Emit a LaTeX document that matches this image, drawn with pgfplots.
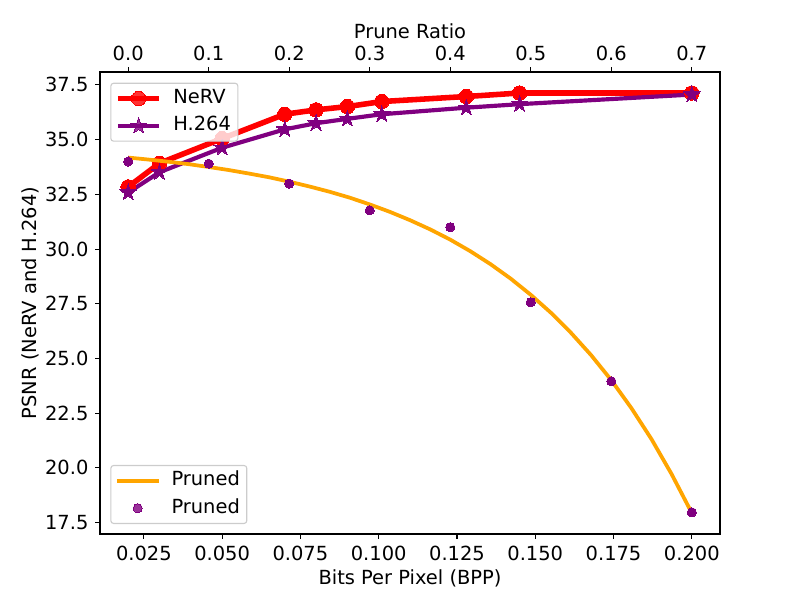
\documentclass[border=0pt]{standalone}
\usepackage{fontspec}
\setmainfont{DejaVu Sans}
\usepackage{pgfplots}
\pgfplotsset{compat=1.18}
\definecolor{mpurple}{HTML}{800080}
\definecolor{morange}{HTML}{FFA500}
\definecolor{legedge}{HTML}{CCCCCC}
\pgfdeclareplotmark{fstar}{%
  \pgfpathmoveto{\pgfpointpolar{90}{\pgfplotmarksize}}%
  \pgfpathlineto{\pgfpointpolar{126}{0.382*\pgfplotmarksize}}%
  \pgfpathlineto{\pgfpointpolar{162}{\pgfplotmarksize}}%
  \pgfpathlineto{\pgfpointpolar{198}{0.382*\pgfplotmarksize}}%
  \pgfpathlineto{\pgfpointpolar{234}{\pgfplotmarksize}}%
  \pgfpathlineto{\pgfpointpolar{270}{0.382*\pgfplotmarksize}}%
  \pgfpathlineto{\pgfpointpolar{306}{\pgfplotmarksize}}%
  \pgfpathlineto{\pgfpointpolar{342}{0.382*\pgfplotmarksize}}%
  \pgfpathlineto{\pgfpointpolar{18}{\pgfplotmarksize}}%
  \pgfpathlineto{\pgfpointpolar{54}{0.382*\pgfplotmarksize}}%
  \pgfpathclose
  \pgfusepathqfillstroke
}
\newcommand{\fs}{\fontsize{14}{16.8}\selectfont}
\pgfplotsset{
  common/.style={
    width=446.4pt, height=332.64pt, scale only axis,
    at={(0,0)}, anchor=south west,
    ymin=16.98, ymax=38.09,
    tick align=outside, major tick length=3.5pt,
    every tick/.style={black, line width=0.8pt},
    axis line style={line width=0.8pt},
    tick label style={font=\fs},
    label style={font=\fs},
    /pgf/number format/assume math mode=true,
    legend style={font=\fs, draw=legedge, line width=0.8pt, rounded corners=2pt,
      fill=white, fill opacity=0.8, text opacity=1, draw opacity=1,
      inner xsep=3pt, inner ysep=2.5pt, row sep=2.7pt, column sep=6pt,
      nodes={inner sep=2pt, text height=10pt, text depth=3pt}},
    legend cell align=left,
    legend image code/.code={\draw[mark repeat=2,mark phase=2,##1] plot coordinates {(0pt,0pt) (15pt,0pt) (30pt,0pt)};},
  }
}
\begin{document}
\fs
\begin{tikzpicture}
\begin{axis}[common,
  xmin=0.011, xmax=0.209,
  xtick={0.025,0.05,0.075,0.1,0.125,0.15,0.175,0.2},
  scaled x ticks=false,
  x tick label style={/pgf/number format/fixed, /pgf/number format/fixed zerofill, /pgf/number format/precision=3},
  ytick={17.5,20,22.5,25,27.5,30,32.5,35,37.5},
  y tick label style={/pgf/number format/fixed, /pgf/number format/fixed zerofill, /pgf/number format/precision=1},
  xtick pos=lower, ytick pos=left,
  xlabel={Bits Per Pixel (BPP)},
  ylabel={PSNR (NeRV and H.264)},
  every axis x label/.style={at={(axis description cs:0.5,0)}, anchor=base, yshift=-36pt},
  every axis y label/.style={at={(axis description cs:0,0.5)}, xshift=-45.6pt, rotate=90, anchor=base},
  legend style={at={(0,1)}, anchor=north west, xshift=7.4pt, yshift=-7.7pt},
]
\addplot[red, line width=4pt, mark=*, mark size=5.2pt, mark options={line width=0pt}] coordinates {
(0.02,32.84) (0.03,33.92) (0.05,35.05) (0.07,36.16) (0.08,36.36) (0.09,36.51) (0.101,36.74) (0.128,36.97) (0.145,37.13) (0.2,37.13)};
\addlegendentry{NeRV}
\addplot[mpurple, line width=3pt, mark=fstar, mark size=6.2pt, mark options={line width=0pt}] coordinates {
(0.02,32.58) (0.03,33.51) (0.05,34.63) (0.07,35.47) (0.08,35.75) (0.09,35.95) (0.101,36.16) (0.128,36.46) (0.145,36.62) (0.2,37.06)};
\addlegendentry{H.264}
\end{axis}
\begin{axis}[common,
  xmin=-0.035, xmax=0.735,
  xtick={0,0.1,0.2,0.3,0.4,0.5,0.6,0.7},
  x tick label style={/pgf/number format/fixed, /pgf/number format/fixed zerofill, /pgf/number format/precision=1},
  xtick pos=upper, xticklabel pos=upper,
  ytick=\empty,
  xlabel={Prune Ratio},
  every axis x label/.style={at={(axis description cs:0.5,1)}, anchor=base, yshift=23.8pt},
  legend style={at={(0,0)}, anchor=south west, xshift=7.4pt, yshift=7.2pt},
]
\addplot[morange, line width=2.7pt] coordinates {
(0,34.18) (0.025,34.09) (0.05,33.99) (0.075,33.88) (0.1,33.75) (0.125,33.61) (0.15,33.45) (0.175,33.28)
(0.2,33.08) (0.225,32.86) (0.25,32.62) (0.275,32.35) (0.3,32.04) (0.325,31.70) (0.35,31.32) (0.375,30.90)
(0.4,30.43) (0.425,29.90) (0.45,29.31) (0.475,28.65) (0.5,27.91) (0.525,27.09) (0.55,26.17) (0.575,25.15)
(0.6,24.01) (0.625,22.73) (0.65,21.31) (0.675,19.71) (0.7,17.94)};
\addlegendentry{Pruned}
\addplot[only marks, mark=*, mpurple, mark size=3.3pt, mark options={line width=0pt}] coordinates {
(0,34.0) (0.1,33.9) (0.2,32.99) (0.3,31.77) (0.4,31.0) (0.5,27.57) (0.6,23.96) (0.7,17.97)};
\addlegendentry{Pruned}
\end{axis}
\pgfresetboundingbox
\path[use as bounding box] (-72pt,-47.52pt) rectangle (504pt,384.48pt);
\end{tikzpicture}
\end{document}
